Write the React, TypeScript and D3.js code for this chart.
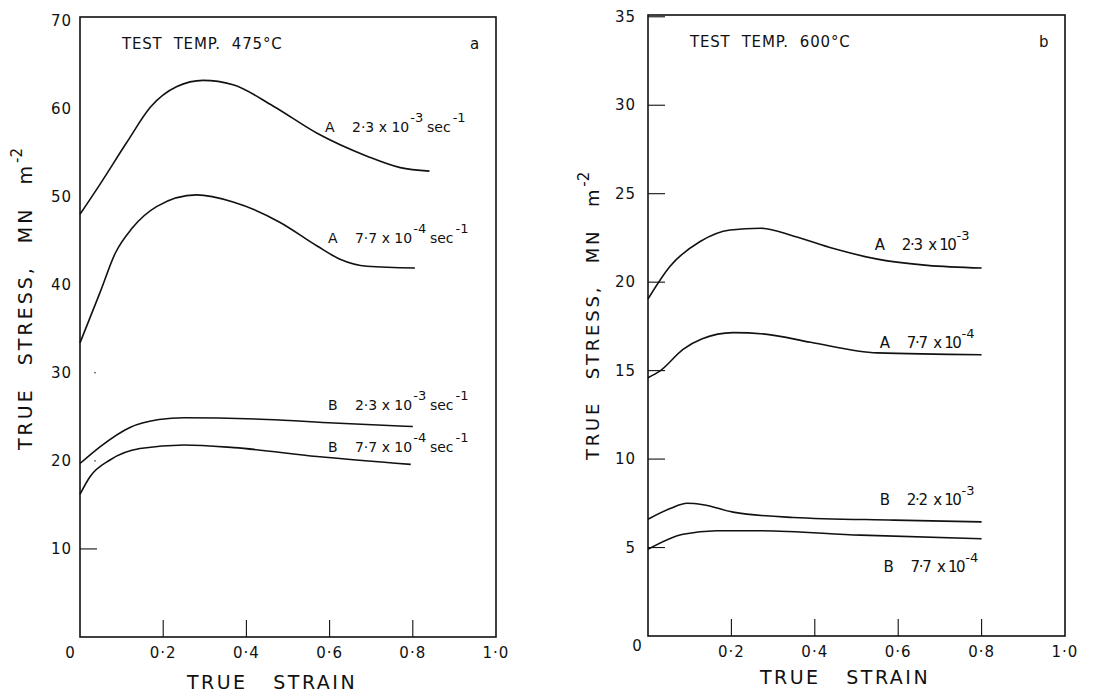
import React from "react";
import * as d3 from "d3";

// ---------- DATA ----------
// Panel a : test temp 475 °C  (strain, stress MN m^-2)
const a_A_23e3: [number, number][] = [
  [0, 48.0], [0.048, 51.4], [0.113, 56.2], [0.17, 60.2], [0.233, 62.5], [0.296, 63.2],
  [0.368, 62.7], [0.464, 60.3], [0.57, 57.2], [0.69, 54.6], [0.77, 53.3], [0.84, 52.9],
];
const a_A_77e4: [number, number][] = [
  [0, 33.4], [0.048, 39.1], [0.085, 43.6], [0.125, 46.4], [0.185, 48.9], [0.28, 50.2],
  [0.368, 49.4], [0.48, 47.1], [0.57, 44.4], [0.625, 42.9], [0.69, 42.1], [0.805, 41.9],
];
const a_B_23e3: [number, number][] = [
  [0, 19.7], [0.048, 21.6], [0.12, 23.8], [0.19, 24.7], [0.25, 24.9], [0.45, 24.7],
  [0.61, 24.3], [0.8, 23.9],
];
const a_B_77e4: [number, number][] = [
  [0, 16.2], [0.024, 18.2], [0.072, 20.1], [0.144, 21.4], [0.25, 21.8], [0.37, 21.5],
  [0.57, 20.5], [0.795, 19.6],
];
// Panel b : test temp 600 °C
const b_A_23e3: [number, number][] = [
  [0, 19.05], [0.053, 20.9], [0.125, 22.3], [0.197, 22.95], [0.27, 23.05], [0.35, 22.6],
  [0.445, 21.9], [0.55, 21.3], [0.67, 20.95], [0.8, 20.8],
];
const b_A_77e4: [number, number][] = [
  [0, 14.6], [0.03, 15.0], [0.084, 16.2], [0.13, 16.8], [0.204, 17.15], [0.286, 17.05],
  [0.39, 16.6], [0.55, 16.0], [0.8, 15.9],
];
const b_B_22e3: [number, number][] = [
  [0, 6.6], [0.053, 7.2], [0.094, 7.5], [0.132, 7.42], [0.204, 7.0], [0.348, 6.7],
  [0.59, 6.55], [0.8, 6.45],
];
const b_B_77e4: [number, number][] = [
  [0, 4.9], [0.084, 5.75], [0.165, 5.95], [0.27, 5.95], [0.51, 5.7], [0.8, 5.5],
];

const xTicks = [0, 0.2, 0.4, 0.6, 0.8, 1.0];
const xTickLabels = ["0", "0·2", "0·4", "0·6", "0·8", "1·0"];
const yTicksA = [10, 20, 30, 40, 50, 60, 70];
const yTicksB = [5, 10, 15, 20, 25, 30, 35];

type Label = { letter: string; mant: string; exp: string; sec: boolean; at: [number, number] };

const labelsA: Label[] = [
  { letter: "A", mant: "2·3 x 10", exp: "-3", sec: true, at: [0.589, 57.3] },
  { letter: "A", mant: "7·7 x 10", exp: "-4", sec: true, at: [0.596, 44.7] },
  { letter: "B", mant: "2·3 x 10", exp: "-3", sec: true, at: [0.596, 25.8] },
  { letter: "B", mant: "7·7 x 10", exp: "-4", sec: true, at: [0.596, 21.0] },
];
const labelsB: Label[] = [
  { letter: "A", mant: "2·3  x 10", exp: "-3", sec: false, at: [0.544, 21.8] },
  { letter: "A", mant: "7·7  x 10", exp: "-4", sec: false, at: [0.556, 16.3] },
  { letter: "B", mant: "2·2  x 10", exp: "-3", sec: false, at: [0.556, 7.4] },
  { letter: "B", mant: "7·7  x 10", exp: "-4", sec: false, at: [0.565, 3.6] },
];

const FONT = "'DejaVu Sans', 'Liberation Sans', sans-serif";

type PanelProps = {
  x0: number; x1: number; y0: number; y1: number; yMax: number;
  yTicks: number[]; series: [number, number][][]; labels: Label[];
  temp: string; letter: string;
  yTitleX: number; yTitleY: number; yTitleSize: number; yTitleLs: number; yTitleWs: number;
  xTitleX: number; xTitleY: number;
  gap: number; mantLen: number; labelSize: number;
};

function Panel(p: PanelProps) {
  const x = d3.scaleLinear().domain([0, 1]).range([p.x0, p.x1]);
  const y = d3.scaleLinear().domain([0, p.yMax]).range([p.y1, p.y0]);
  const line = d3.line<[number, number]>()
    .x((d) => x(d[0]))
    .y((d) => y(d[1]))
    .curve(d3.curveMonotoneX);
  return (
    <g fontFamily={FONT} fill="#111">
      <rect x={p.x0} y={p.y0} width={p.x1 - p.x0} height={p.y1 - p.y0} fill="none" stroke="#111" strokeWidth={1.6} />
      {xTicks.slice(1, 5).map((t) => (
        <line key={t} x1={x(t)} x2={x(t)} y1={p.y1} y2={p.y1 - 17} stroke="#111" strokeWidth={1.1} />
      ))}
      {xTicks.slice(1).map((t, i) => (
        <text key={t} x={x(t)} y={p.y1 + 21} fontSize={15} textAnchor="middle" letterSpacing={1}>
          {xTickLabels[i + 1]}
        </text>
      ))}
      {p.yTicks.map((t) => (
        <g key={t}>
          {t !== p.yMax && (p.gap > 0 || t === 10) && (
            <line x1={p.x0} x2={p.x0 + 17} y1={y(t)} y2={y(t)} stroke="#111" strokeWidth={1.1} />
          )}
          {p.gap === 0 && (t === 20 || t === 30) && (
            <line x1={p.x0 + 14} x2={p.x0 + 16} y1={y(t)} y2={y(t)} stroke="#444" strokeWidth={1} />
          )}
          <text x={p.x0 - p.gap - 8} y={y(t) + 5} fontSize={15} textAnchor="end" letterSpacing={1}>
            {t}
          </text>
        </g>
      ))}
      {p.gap === 0 && (
        <text x={p.x0 - 10} y={y(0) + 21} fontSize={15} textAnchor="middle">{xTickLabels[0]}</text>
      )}
      {p.gap > 0 && (
        <text x={p.x0 - 11} y={y(0) + 15} fontSize={15} textAnchor="middle">{xTickLabels[0]}</text>
      )}
      {p.series.map((s, i) => (
        <path key={i} d={line(s) || ""} fill="none" stroke="#111" strokeWidth={1.6} />
      ))}
      {p.labels.map((l, i) => {
        const lx = x(l.at[0]);
        const ly = y(l.at[1]);
        return (
          <g key={i} fontSize={p.labelSize}>
            <text x={lx} y={ly}>{l.letter}</text>
            <text x={lx + 27} y={ly} style={{ whiteSpace: "pre" }}>
              {p.mantLen > 0 ? (
                <tspan textLength={p.mantLen} lengthAdjust="spacing">{l.mant}</tspan>
              ) : (
                <tspan>{l.mant}</tspan>
              )}
              <tspan dy={-10} dx={1} fontSize={13}>{l.exp}</tspan>
            </text>
            {l.sec && (
              <text x={lx + 102} y={ly}>
                <tspan>sec</tspan>
                <tspan dy={-10} dx={2} fontSize={13}>-1</tspan>
              </text>
            )}
          </g>
        );
      })}
      <text x={p.x0 + 42} y={p.y0 + 32} fontSize={15} letterSpacing={0.8} style={{ whiteSpace: "pre" }}>
        {p.temp}
      </text>
      <text x={p.x1 - 26} y={p.y0 + 32} fontSize={15}>{p.letter}</text>
      <text
        transform={`translate(${p.yTitleX},${p.yTitleY}) rotate(-90)`}
        fontSize={p.yTitleSize} letterSpacing={p.yTitleLs} wordSpacing={p.yTitleWs}
        style={{ whiteSpace: "pre" }}
      >
        <tspan>{"TRUE STRESS, MN m"}</tspan>
        <tspan dy={-10} fontSize={15} letterSpacing={0}>-2</tspan>
      </text>
      <text x={p.xTitleX} y={p.xTitleY} fontSize={19} textAnchor="middle" letterSpacing={2.5} style={{ whiteSpace: "pre" }}>
        {"TRUE   STRAIN"}
      </text>
    </g>
  );
}

export default function App() {
  return (
    <svg width={1117} height={695} style={{ position: "absolute", left: 0, top: 0, background: "#fff" }}>
      <rect width={1117} height={695} fill="#fff" />
      <Panel
        x0={80} x1={496} y0={17} y1={637} yMax={70.4} yTicks={yTicksA}
        series={[a_A_23e3, a_A_77e4, a_B_23e3, a_B_77e4]} labels={labelsA}
        temp={"TEST  TEMP.  475°C"} letter="a"
        yTitleX={32} yTitleY={450} yTitleSize={19} yTitleLs={3} yTitleWs={13}
        xTitleX={272} xTitleY={689}
        gap={0} mantLen={0} labelSize={14}
      />
      <Panel
        x0={648} x1={1065} y0={15} y1={636} yMax={35.1} yTicks={yTicksB}
        series={[b_A_23e3, b_A_77e4, b_B_22e3, b_B_77e4]} labels={labelsB}
        temp={"TEST  TEMP.  600°C"} letter="b"
        yTitleX={599} yTitleY={460} yTitleSize={18} yTitleLs={2.8} yTitleWs={13}
        xTitleX={845} xTitleY={684}
        gap={4} mantLen={55} labelSize={15}
      />
    </svg>
  );
}
